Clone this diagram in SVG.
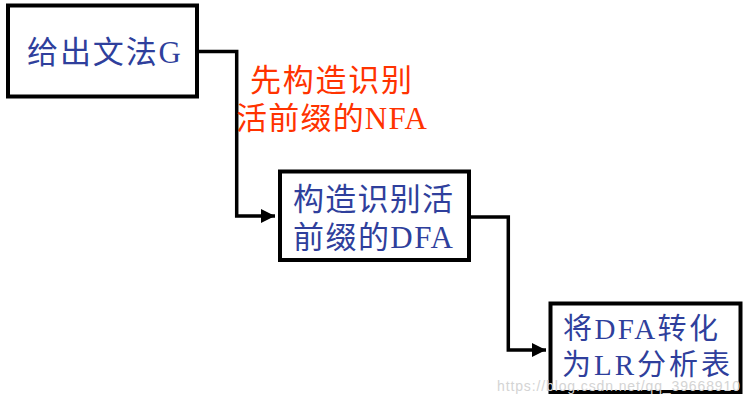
<svg xmlns="http://www.w3.org/2000/svg" width="749" height="402" viewBox="0 0 749 402">
<style>
.box{fill:#fff;stroke:#000;stroke-width:4}
.lbl{font-family:"Liberation Serif","Noto Sans CJK SC",serif;fill:#2f3f9c}
.red{font-family:"Liberation Serif","Noto Sans CJK SC",serif;fill:#ff3300}
.conn{fill:none;stroke:#000;stroke-width:3.5}
.wm{font-family:"Liberation Sans",Arial,sans-serif;fill:#d4d4d4;font-size:14px}
</style>
<defs>
<marker id="arr" markerUnits="userSpaceOnUse" markerWidth="15" markerHeight="15" refX="14" refY="7" orient="auto">
<path d="M0,0 L14,7 L0,14 z" fill="#000"/>
</marker>
</defs>
<rect width="749" height="402" fill="#fff"/>
<g id="connectors">
<path class="conn" d="M197,51.5 H236.7 V216 H275" marker-end="url(#arr)"/>
<path class="conn" d="M469,217 H508.3 V350 H546" marker-end="url(#arr)"/>
</g>
<g id="node1">
<rect class="box" x="8" y="5.5" width="189" height="91"/>
<text class="lbl" x="27" y="63" font-size="31" textLength="154">给出文法G</text>
</g>
<g id="label-nfa">
<text class="red" x="250" y="91" font-size="31" textLength="162">先构造识别</text>
<text class="red" x="236" y="129" font-size="31" textLength="191">活前缀的NFA</text>
</g>
<g id="node2">
<rect class="box" x="280" y="171.5" width="189" height="88.5"/>
<text class="lbl" x="293" y="210" font-size="31" textLength="160">构造识别活</text>
<text class="lbl" x="293" y="248" font-size="31" textLength="160">前缀的DFA</text>
</g>
<g id="node3">
<rect class="box" x="550.5" y="303.5" width="190" height="88.5"/>
<text class="lbl" x="563" y="339" font-size="29" textLength="155">将DFA转化</text>
<text class="lbl" x="562" y="375" font-size="29" textLength="168">为LR分析表</text>
</g>
<text class="wm" x="497" y="391" textLength="243">https://blog.csdn.net/qq_39668910</text>
</svg>
